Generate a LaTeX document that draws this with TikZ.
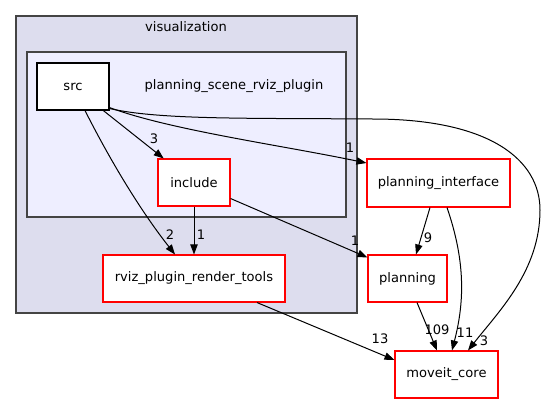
\documentclass[tikz,border=0pt]{standalone}
\usepackage{fontspec}
\setmainfont{DejaVu Sans}
\usetikzlibrary{arrows.meta,calc}
\definecolor{outerfill}{HTML}{DDDDEE}
\definecolor{innerfill}{HTML}{EEEEFF}
\definecolor{clborder}{HTML}{444444}
\begin{document}
\begin{tikzpicture}[x=0.75pt,y=-0.75pt,
  every node/.style={font=\fontsize{9.8}{11}\selectfont, inner sep=0pt},
  cluster/.style={draw=clborder, line width=0.8pt},
  dirbox/.style={draw=red, fill=white, line width=0.8pt, minimum height=35.25pt},
  srcbox/.style={draw=black, fill=white, line width=0.8pt, minimum height=35.25pt},
  edge/.style={draw=black, line width=0.75pt, -{Triangle[length=7.5pt,width=5.5pt]}},
  lbl/.style={font=\fontsize{9.8}{11}\selectfont}]
\useasboundingbox (0,0) rectangle (546,404);
\fill[white] (0,0) rectangle (546,404);
% clusters
\draw[cluster, fill=outerfill] (16,16) rectangle (357,313);
\node (vislbl) at (186,27) {visualization};
\draw[cluster, fill=innerfill] (27,52) rectangle (346,217);
\node (psrplbl) at (234,86) {planning\_scene\_rviz\_plugin};
% nodes
\node[srcbox, minimum width=54pt] (src) at (73,86.5) {src};
\node[dirbox, minimum width=54pt] (include) at (194,182.5) {include};
\node[dirbox, minimum width=136.5pt] (rviz) at (194,278.5) {rviz\_plugin\_render\_tools};
\node[dirbox, minimum width=107.25pt, minimum height=36pt] (pi) at (438.5,183) {planning\_interface};
\node[dirbox, minimum width=59.25pt] (planning) at (407.5,278.5) {planning};
\node[dirbox, minimum width=77.25pt] (moveit) at (446.5,374.5) {moveit\_core};
% edges
\draw[edge] (src) -- (include);
\draw[edge] ($(src.south)+(12,0)$) .. controls (110,160) and (140,210) .. ($(rviz.north)+(-19,0)$);
\draw[edge] (include) -- (rviz);
\draw[edge] ($(include.east)+(0,16)$) -- ($(planning.north west)+(0,3)$);
\draw[edge] ($(src.south east)+(0,-3)$) .. controls (170,130) and (280,145) .. ($(pi.west)+(0,-20)$);
\draw[edge] ($(src.south east)+(0,-2)$) .. controls (160,120) and (250,118) .. (373,119)
  .. controls (490,119) and (540,160) .. (540,210)
  .. controls (540,270) and (500,310) .. ($(moveit.north)+(21.5,0)$);
\draw[edge] ($(pi.south)+(-8.5,0)$) -- ($(planning.north)+(8.5,0)$);
\draw[edge] ($(pi.south)+(8.5,0)$) .. controls (465,260) and (465,300) .. ($(moveit.north)+(5.5,0)$);
\draw[edge] ($(planning.south)+(9.5,0)$) -- ($(moveit.north)+(-9.5,0)$);
\draw[edge] ($(rviz.south)+(63,0)$) -- ($(moveit.west)+(0,-14.5)$);
% labels
\node[lbl] (l1) at (154,139) {3};
\node[lbl] (l2) at (170,235) {2};
\node[lbl] (l3) at (201,235) {1};
\node[lbl] (l4) at (350,148) {1};
\node[lbl] (l5) at (355,241) {1};
\node[lbl] (l6) at (428,238) {9};
\node[lbl] (l7) at (437,330) {109};
\node[lbl] (l8) at (465,333) {11};
\node[lbl] (l9) at (484,341) {3};
\node[lbl] (l10) at (380,339) {13};
\end{tikzpicture}
\end{document}
